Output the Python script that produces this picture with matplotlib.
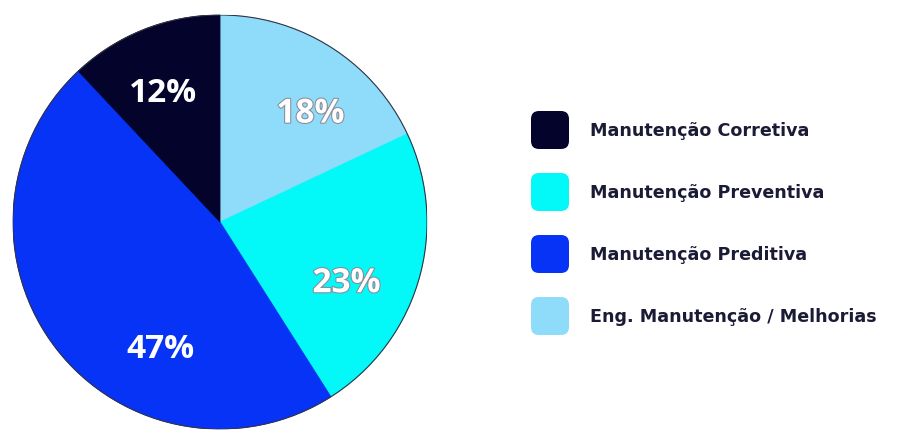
import numpy as np
import matplotlib
matplotlib.use('Agg')
import matplotlib.pyplot as plt
from matplotlib.patches import FancyBboxPatch
import matplotlib.patheffects as pe

plt.rcParams['font.family'] = ['Open Sans', 'DejaVu Sans']

# dados do gráfico (sentido horário a partir do topo)
categorias = ['Eng. Manutenção / Melhorias', 'Manutenção Preventiva',
              'Manutenção Preditiva', 'Manutenção Corretiva']
valores = [18, 23, 47, 12]
cores = ['#8edcf9', '#03f8f8', '#0633f6', '#03032b']

# ordem da legenda
legenda = ['Manutenção Corretiva', 'Manutenção Preventiva',
           'Manutenção Preditiva', 'Eng. Manutenção / Melhorias']

# ângulo (graus) de cada rótulo percentual
ang_rotulo = [50, -26, -115, 114]

fig = plt.figure(figsize=(9, 4.3), dpi=100)
ax = fig.add_axes([13/900, 1/430, 414/900, 414/430])
wedges, _ = ax.pie(valores, colors=cores, startangle=90, counterclock=False,
                   radius=1, wedgeprops=dict(linewidth=0.6))
for w in wedges:
    w.set_edgecolor(w.get_facecolor())
ax.add_patch(plt.Circle((0, 0), 1, fill=False, ec='#333344', lw=0.8))
ax.set_xlim(-1, 1)
ax.set_ylim(-1, 1)
ax.set_aspect('equal')
ax.axis('off')

for v, a in zip(valores, ang_rotulo):
    r = 0.68
    t = ax.text(r*np.cos(np.radians(a)), r*np.sin(np.radians(a)), f'{v}%',
                ha='center', va='center', color='white', fontsize=24, fontweight='bold')
    if v in (18, 23):
        t.set_path_effects([pe.withStroke(linewidth=1.5, foreground='#8a8a99')])

# legenda manual
lax = fig.add_axes([0, 0, 1, 1])
lax.set_xlim(0, 900)
lax.set_ylim(430, 0)
lax.axis('off')
for i, nome in enumerate(legenda):
    cor = cores[categorias.index(nome)]
    y = 130 + i*62
    box = FancyBboxPatch((531, y - 19), 38, 38, boxstyle='round,pad=0,rounding_size=8',
                         fc=cor, ec='none')
    lax.add_patch(box)
    lax.text(590, y + 1, nome, ha='left', va='center', fontsize=12.6,
             fontweight='bold', color='#1b1b35', family='DejaVu Sans')

fig.savefig('out.png', dpi=100, facecolor='white')
